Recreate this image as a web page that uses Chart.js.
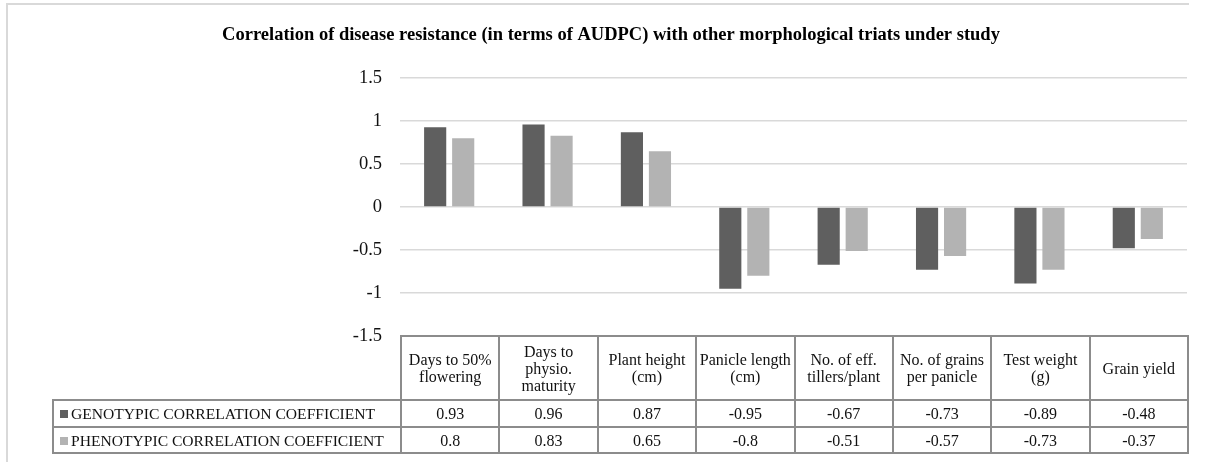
<!DOCTYPE html>
<html>
<head>
<meta charset="utf-8">
<script src="https://cdn.jsdelivr.net/npm/chart.js@4.4.1/dist/chart.umd.min.js"></script>
<style>
  html, body { margin: 0; padding: 0; background: #fff; }
  #wrap { position: relative; width: 1207px; height: 462px; overflow: hidden; }
  #frame { position: absolute; left: 6px; top: 3px; width: 1181px; height: 470px;
           border-top: 2px solid #d9d9d9; border-left: 2px solid #d9d9d9; }
  canvas { position: absolute; left: 0; top: 0; }
  #dataTable { position: absolute; border-collapse: collapse; font-family: 'Liberation Serif', serif;
               font-size: 16px; color: #111; table-layout: fixed; }
  #dataTable td { border: 2px solid #8c8c8c; text-align: center; padding: 0; line-height: 17px; }
  #dataTable td.blank { border: none; }
  #dataTable td.legend { text-align: left; padding-left: 6px; white-space: nowrap; font-size: 15.6px; }
  .swatch { display: inline-block; width: 8px; height: 8px; margin-right: 3px; vertical-align: 1px; }
</style>
</head>
<body>
<div id="wrap">
  <div id="frame"></div>
  <canvas id="chart" width="1207" height="462"></canvas>
  <table id="dataTable"></table>
</div>
<script>
// Data
const categories = [
  ['Days to 50%', 'flowering'],
  ['Days to', 'physio.', 'maturity'],
  ['Plant height', '(cm)'],
  ['Panicle length', '(cm)'],
  ['No. of eff.', 'tillers/plant'],
  ['No. of grains', 'per panicle'],
  ['Test weight', '(g)'],
  ['Grain yield']
];
const genotypic = [0.93, 0.96, 0.87, -0.95, -0.67, -0.73, -0.89, -0.48];
const phenotypic = [0.8, 0.83, 0.65, -0.8, -0.51, -0.57, -0.73, -0.37];
const seriesNames = ['GENOTYPIC CORRELATION COEFFICIENT', 'PHENOTYPIC CORRELATION COEFFICIENT'];
const yTicks = [-1.5, -1, -0.5, 0, 0.5, 1, 1.5];

const colors = ['#5f5f5f', '#b3b3b3'];
const serif = "'Liberation Serif', 'Times New Roman', serif";
const padLeft = 35;

function buildTable(chart) {
  const table = document.getElementById('dataTable');
  const area = chart.chartArea;
  const colW = (area.right - area.left) / categories.length;
  const legendLeft = 52;
  const legendW = area.left - legendLeft;

  table.style.left = legendLeft + 'px';
  table.style.top = (area.bottom - 1) + 'px';
  table.style.width = (area.right - legendLeft + 1) + 'px';

  let html = '<colgroup><col style="width:' + legendW + 'px">';
  categories.forEach(() => { html += '<col style="width:' + colW + 'px">'; });
  html += '</colgroup>';

  html += '<tr style="height:64px"><td class="blank"></td>';
  categories.forEach(c => { html += '<td>' + c.join('<br>') + '</td>'; });
  html += '</tr>';

  [genotypic, phenotypic].forEach((vals, i) => {
    html += '<tr style="height:' + (i === 0 ? 27 : 26) + 'px"><td class="legend">' +
      '<span class="swatch" style="background:' + colors[i] + '"></span>' + seriesNames[i] + '</td>';
    vals.forEach(v => { html += '<td>' + v + '</td>'; });
    html += '</tr>';
  });
  table.innerHTML = html;
}

const tablePlugin = {
  id: 'tablePlugin',
  afterRender(chart) {
    if (!chart._tableDone) {
      chart._tableDone = true;
      buildTable(chart);
    }
  }
};

new Chart(document.getElementById('chart'), {
  type: 'bar',
  data: {
    labels: categories,
    datasets: [
      { label: seriesNames[0], data: genotypic, backgroundColor: colors[0] },
      { label: seriesNames[1], data: phenotypic, backgroundColor: colors[1] }
    ]
  },
  options: {
    responsive: false,
    animation: false,
    layout: { padding: { left: padLeft, right: 20, bottom: 126 } },
    datasets: {
      bar: { categoryPercentage: 0.57, barPercentage: 0.79 }
    },
    plugins: {
      legend: { display: false },
      tooltip: { enabled: false },
      title: {
        display: true,
        text: 'Correlation of disease resistance (in terms of AUDPC) with other morphological triats under study',
        color: '#000',
        font: { family: serif, size: 18.5, weight: 'bold' },
        padding: { top: 24, bottom: 32 }
      }
    },
    scales: {
      x: { display: false },
      y: {
        min: -1.5,
        max: 1.5,
        afterBuildTicks(scale) { scale.ticks = yTicks.map(v => ({ value: v })); },
        afterFit(scale) { scale.width = 400 - padLeft; },
        grid: { color: '#d9d9d9', lineWidth: 1.5, drawTicks: false },
        border: { display: false },
        ticks: {
          padding: 18,
          color: '#111',
          font: { family: serif, size: 18.5 },
          callback: v => String(v)
        }
      }
    }
  },
  plugins: [tablePlugin]
});
</script>
</body>
</html>
